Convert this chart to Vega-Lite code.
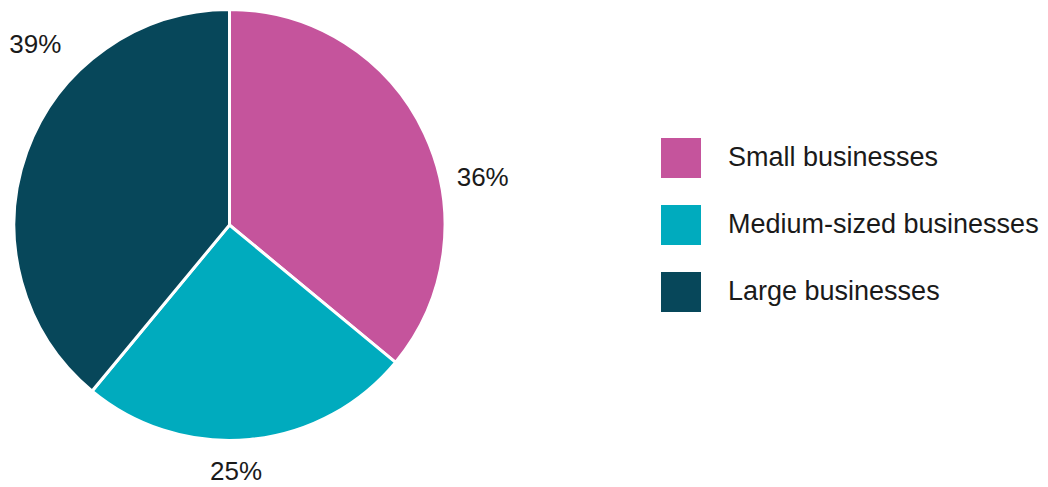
{
  "$schema": "https://vega.github.io/schema/vega-lite/v6.json",
  "width": 459,
  "height": 450,
  "autosize": "none",
  "padding": {"left": 0, "top": 0, "right": 589, "bottom": 37},
  "background": "white",
  "config": {"view": {"stroke": null}, "font": "Liberation Sans"},
  "data": {
    "values": [
      {"category": "Small businesses", "value": 36, "label": "36%", "idx": 1},
      {"category": "Medium-sized businesses", "value": 25, "label": "25%", "idx": 2},
      {"category": "Large businesses", "value": 39, "label": "39%", "idx": 3}
    ]
  },
  "encoding": {
    "theta": {"field": "value", "type": "quantitative", "stack": true},
    "order": {"field": "idx", "type": "quantitative", "sort": "ascending"}
  },
  "layer": [
    {
      "mark": {"type": "arc", "outerRadius": 215.5, "stroke": "white", "strokeWidth": 3},
      "encoding": {
        "color": {
          "field": "category",
          "type": "nominal",
          "sort": ["Small businesses", "Medium-sized businesses", "Large businesses"],
          "scale": {
            "domain": ["Small businesses", "Medium-sized businesses", "Large businesses"],
            "range": ["#C5549C", "#00ABBE", "#07475A"]
          },
          "legend": {
            "title": null,
            "orient": "none",
            "legendX": 661,
            "legendY": 138,
            "symbolType": "square",
            "symbolSize": 1600,
            "symbolStrokeWidth": 0,
            "symbolOpacity": 1,
            "labelFontSize": 27,
            "labelColor": "#1a1a1a",
            "labelOffset": 27,
            "rowPadding": 27,
            "labelLimit": 400
          }
        }
      }
    },
    {
      "mark": {"type": "text", "radius": 250, "fontSize": 26, "color": "#1a1a1a", "dx": 27, "dy": 59},
      "encoding": {
        "detail": {"field": "category", "type": "nominal"},
        "text": {"condition": {"test": "datum.category === 'Small businesses'", "field": "label"}, "value": ""}
      }
    },
    {
      "mark": {"type": "text", "radius": 250, "fontSize": 26, "color": "#1a1a1a", "dx": -17, "dy": -2},
      "encoding": {
        "detail": {"field": "category", "type": "nominal"},
        "text": {"condition": {"test": "datum.category === 'Medium-sized businesses'", "field": "label"}, "value": ""}
      }
    },
    {
      "mark": {"type": "text", "radius": 250, "fontSize": 26, "color": "#1a1a1a", "dx": 41, "dy": -95},
      "encoding": {
        "detail": {"field": "category", "type": "nominal"},
        "text": {"condition": {"test": "datum.category === 'Large businesses'", "field": "label"}, "value": ""}
      }
    }
  ]
}
